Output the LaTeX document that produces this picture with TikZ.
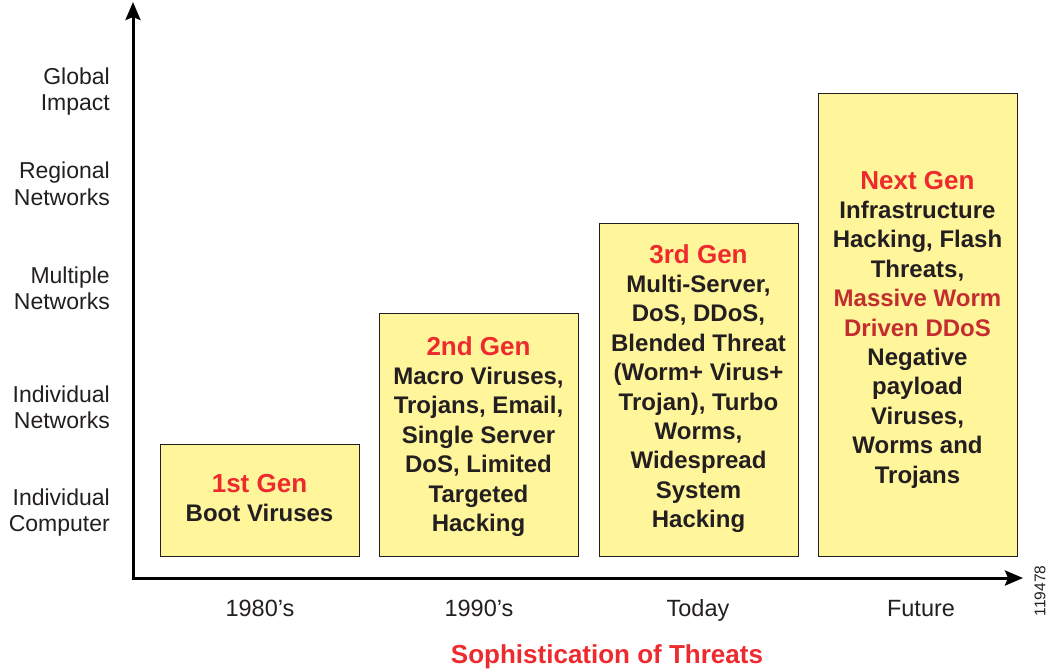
\documentclass[tikz,border=0pt]{standalone}
\usepackage{fontspec}
\setmainfont{Liberation Sans}
\usetikzlibrary{arrows.meta}
\definecolor{boxyellow}{HTML}{FFF59B}
\definecolor{hred}{HTML}{ED2A2E}
\definecolor{dred}{HTML}{C42D30}
\definecolor{ink}{HTML}{231F20}
\tikzset{
  genbox/.style={draw=ink, line width=0.9pt, fill=boxyellow, minimum width=199pt, inner sep=0pt},
  gentext/.style={inner sep=0pt, align=center, text=ink, font=\fontsize{24}{29.4}\selectfont\bfseries},
  axis/.style={line width=3pt, draw=black, -{Stealth[length=18pt,width=15pt,inset=3pt]}},
  ylab/.style={align=right, anchor=east, text=ink, font=\fontsize{23}{26.5}\selectfont, inner sep=0pt},
  xlab/.style={anchor=base, text=ink, font=\fontsize{23.5}{27}\selectfont, inner sep=0pt}
}
\newcommand{\hd}[1]{{\fontsize{26}{30}\selectfont\color{hred}#1}}
\begin{document}
\begin{tikzpicture}[x=1pt,y=-1pt]
\useasboundingbox (0,0) rectangle (1048,670);
% axes
\coordinate (o) at (133,578);
\coordinate (ytop) at (133,2);
\coordinate (xend) at (1023,578);
\draw[axis] ([yshift=-1.5pt]o) -- (ytop);
\draw[axis] ([xshift=-1.5pt]o) -- (xend);
% y labels
\node[ylab] (l1) at (110,91.5) {Global\\Impact};
\node[ylab] (l2) at (110,184) {Regional\\Networks};
\node[ylab] (l3) at (110,288.5) {Multiple\\Networks};
\node[ylab] (l4) at (110,407.5) {Individual\\Networks};
\node[ylab] (l5) at (110,512.5) {Individual\\Computer};
% boxes
\node[genbox, minimum height=112pt] (g1) at (259.5,500.5) {};
\node[genbox, minimum height=243pt] (g2) at (478.5,434.5) {};
\node[genbox, minimum height=333pt] (g3) at (698.5,389.5) {};
\node[genbox, minimum height=463pt] (g4) at (917.5,324.5) {};
\node[gentext] (t1) at ([yshift=2.5pt]g1.center) {\hd{1st Gen}\\Boot Viruses};
\node[gentext] (t2) at ([yshift=-2pt]g2.center) {\hd{2nd Gen}\\Macro Viruses,\\Trojans, Email,\\Single Server\\DoS, Limited\\Targeted\\Hacking};
\node[gentext] (t3) at ([yshift=1pt]g3.center) {\hd{3rd Gen}\\Multi-Server,\\DoS, DDoS,\\Blended Threat\\(Worm+ Virus+\\Trojan), Turbo\\Worms,\\Widespread\\System\\Hacking};
\node[gentext] (t4) at ([yshift=-5pt]g4.center) {\hd{Next Gen}\\Infrastructure\\Hacking, Flash\\Threats,\\{\color{dred}Massive Worm}\\{\color{dred}Driven DDoS}\\Negative\\payload\\Viruses,\\Worms and\\Trojans};
% x labels
\node[xlab] (x1) at (260,616) {1980's};
\node[xlab] (x2) at (479,616) {1990's};
\node[xlab] (x3) at (698,616) {Today};
\node[xlab] (x4) at (921,616) {Future};
\node[anchor=base, text=hred, font=\fontsize{26}{30}\selectfont\bfseries, inner sep=0pt] (title) at (607,663) {Sophistication of Threats};
\node[rotate=90, text=ink, font=\fontsize{15.5}{18}\selectfont, inner sep=0pt] (id) at (1040,591) {119478};
\end{tikzpicture}
\end{document}
